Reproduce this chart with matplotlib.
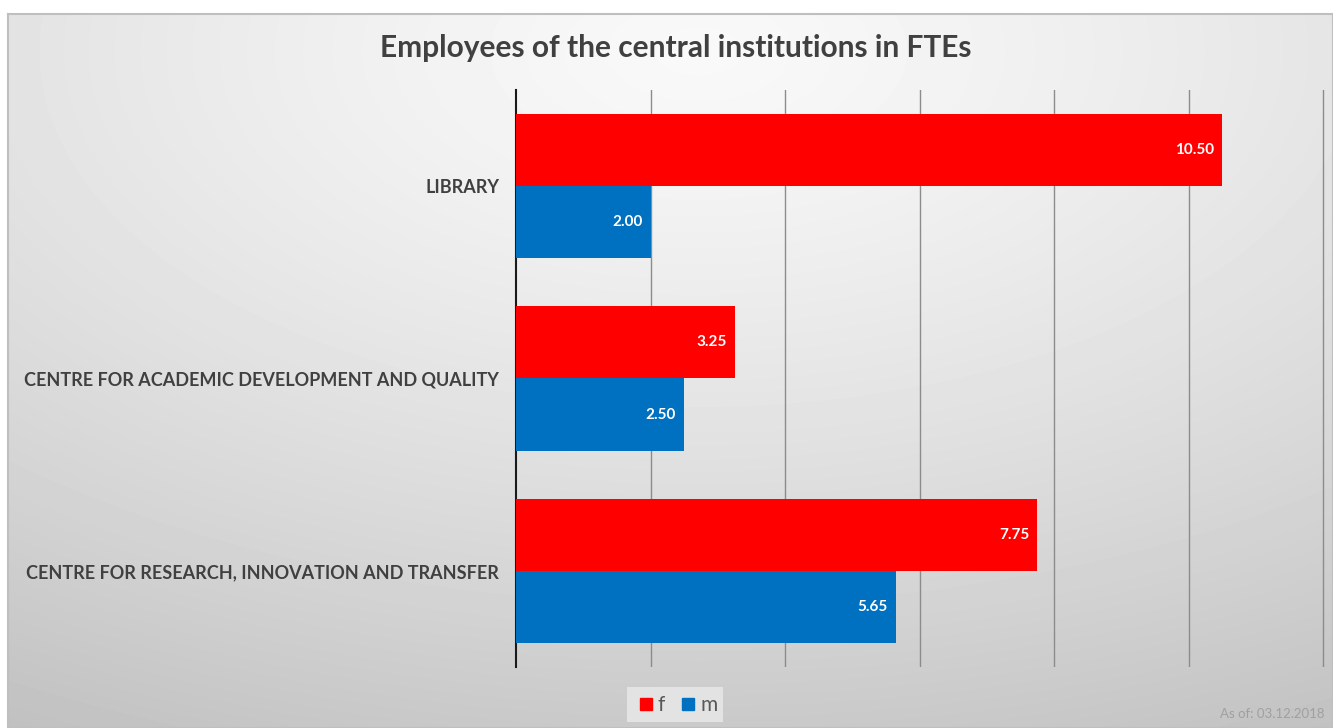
import numpy as np
import matplotlib.pyplot as plt
from matplotlib.patches import Rectangle

categories = ["LIBRARY", "CENTRE FOR ACADEMIC DEVELOPMENT AND QUALITY",
              "CENTRE FOR RESEARCH, INNOVATION AND TRANSFER"]
female = [10.50, 3.25, 7.75]
male = [2.00, 2.50, 5.65]

RED = "#FF0000"
BLUE = "#0070C0"
TEXT = "#404040"

plt.rcParams["font.family"] = ["Lato", "DejaVu Sans"]

fig = plt.figure(figsize=(13.33, 7.28), dpi=100)
fig.patch.set_facecolor("white")

# gradient background panel
bg = fig.add_axes([8 / 1333, 0, 1 - 8 / 1333, 1 - 14 / 728], zorder=0)
h, w = 200, 360
yy, xx = np.mgrid[0:h, 0:w]
cx, cy = w * 0.52, h * 0.05
r = np.sqrt(((xx - cx) / w) ** 2 + ((yy - cy) / h) ** 2)
r = r / r.max()
shade = 0.975 - 0.22 * r ** 1.3
bg.imshow(shade, cmap="gray", vmin=0, vmax=1, aspect="auto",
          extent=[0, 1, 0, 1], interpolation="bilinear")
bg.set_xticks([])
bg.set_yticks([])
for s in bg.spines.values():
    s.set_color("#bfbfbf")
    s.set_linewidth(1.5)

# plot area: x = 0 at px 516, x = 12 at px 1323
px_per_unit = (1323 - 516) / 12
xmax = 12.1
ax = fig.add_axes([516 / 1333, 1 - 667 / 728, xmax * px_per_unit / 1333, (667 - 90) / 728],
                  zorder=1)
ax.set_facecolor("none")

y = np.arange(len(categories))
bh = 0.375
bars_f = ax.barh(y - bh / 2, female, height=bh, color=RED, zorder=3)
bars_m = ax.barh(y + bh / 2, male, height=bh, color=BLUE, zorder=3)

for bars in (bars_f, bars_m):
    for b in bars:
        ax.text(b.get_width() - 0.12, b.get_y() + b.get_height() / 2,
                f"{b.get_width():.2f}", ha="right", va="center",
                color="white", fontsize=11, fontweight="bold", zorder=4)

ax.set_xlim(0, xmax)
ax.set_ylim(2.5, -0.5)
ax.set_xticks(np.arange(2, 13, 2))
ax.set_xticklabels([])
ax.tick_params(axis="x", length=0)
ax.xaxis.grid(True, color="#8c8c8c", linewidth=1.0, zorder=1)
ax.set_axisbelow(True)

ax.set_yticks(y)
ax.set_yticklabels(categories, fontsize=13, fontweight="bold", color=TEXT)
ax.tick_params(axis="y", length=0, pad=12)

for side in ("top", "right", "bottom"):
    ax.spines[side].set_visible(False)
ax.spines["left"].set_color("#1a1a1a")
ax.spines["left"].set_linewidth(1.5)

fig.text(676 / 1333, 1 - 48 / 728, "Employees of the central institutions in FTEs",
         ha="center", va="center", fontsize=21.5, fontweight="bold", color=TEXT)

# legend
leg_ax = fig.add_axes([627 / 1333, 1 - 722 / 728, 96 / 1333, 35 / 728], zorder=2)
leg_ax.set_xlim(0, 96)
leg_ax.set_ylim(0, 35)
leg_ax.axis("off")
leg_ax.add_patch(Rectangle((0, 0), 96, 35, color="#e3e3e3"))
leg_ax.add_patch(Rectangle((13, 12), 12, 12, color=RED))
leg_ax.text(31, 17, "f", fontsize=15, color="#595959", va="center")
leg_ax.add_patch(Rectangle((55, 12), 12, 12, color=BLUE))
leg_ax.text(73, 17, "m", fontsize=15, color="#595959", va="center")

fig.text(1325 / 1333, 1 - 714 / 728, "As of: 03.12.2018", ha="right", va="center",
         fontsize=9.5, color="#a0a0a0")

fig.savefig("out.png", dpi=100)
